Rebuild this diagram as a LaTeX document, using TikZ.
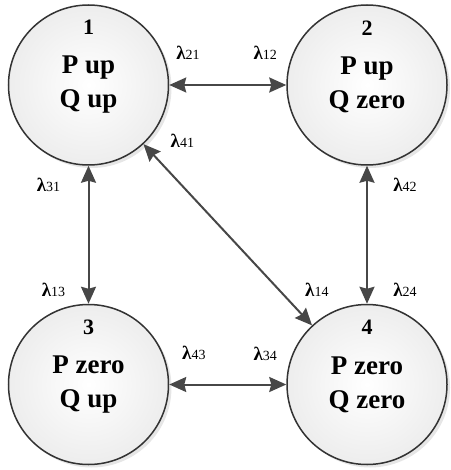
\documentclass[tikz,border=0pt]{standalone}
\usepackage{fontspec}
\setmainfont{Liberation Serif}
\usetikzlibrary{positioning, arrows.meta, shadows}

\newcommand{\lamlbl}[1]{\textbf{λ}{\fontsize{14}{14}\selectfont #1}}

\begin{document}
\begin{tikzpicture}[
  x=1pt, y=-1pt,
  node distance=117pt,
  state/.style={circle, draw=black!80, line width=1.5pt, minimum size=160pt,
                inner color=white, outer color=black!7,
                drop shadow={opacity=0.2, shadow xshift=3pt, shadow yshift=-3pt},
                align=center, font=\fontsize{27}{34}\selectfont\bfseries},
  num/.style={inner sep=0pt, anchor=north, font=\fontsize{22}{22}\selectfont\bfseries},
  trans/.style={<->, >={Stealth[length=17pt, width=15pt, inset=2pt]},
                draw=black!72, line width=2pt},
  lam/.style={inner sep=0pt, font=\fontsize{19}{19}\selectfont}
]
\useasboundingbox (0,0) rectangle (450,470);

% ====== STANY ======
\node[state] (s1) at (88.5,85) {P up\\Q up};
\node[state, right=of s1] (s2) {P up\\Q zero};
\node[state, below=138pt of s1] (s3) {P zero\\Q up};
\node[state, right=of s3] (s4) {P zero\\Q zero};

\node[num, below=16pt of s1.north] (n1) {1};
\node[num, below=16pt of s2.north] (n2) {2};
\node[num, below=16pt of s3.north] (n3) {3};
\node[num, below=16pt of s4.north] (n4) {4};

% ====== PRZEJSCIA ======
\draw[trans] (s1) -- node[lam, pos=.16, yshift=32pt] (l21) {\lamlbl{21}}
                     node[lam, pos=.82, yshift=32pt] (l12) {\lamlbl{12}} (s2);
\draw[trans] (s3) -- node[lam, pos=.21, yshift=32pt] (l43) {\lamlbl{43}}
                     node[lam, pos=.82, yshift=31pt] (l34) {\lamlbl{34}} (s4);
\draw[trans] (s1) -- node[lam, pos=.14, xshift=-40pt] (l31) {\lamlbl{31}}
                     node[lam, pos=.90, xshift=-35pt] (l13) {\lamlbl{13}} (s3);
\draw[trans] (s2) -- node[lam, pos=.14, xshift=38pt] (l42) {\lamlbl{42}}
                     node[lam, pos=.90, xshift=38pt] (l24) {\lamlbl{24}} (s4);
\draw[trans] (s1) -- node[lam, pos=.10, xshift=22pt, yshift=21pt] (l41) {\lamlbl{41}}
                     node[lam, pos=.91, xshift=20pt, yshift=19pt] (l14) {\lamlbl{14}} (s4);

\end{tikzpicture}
\end{document}
